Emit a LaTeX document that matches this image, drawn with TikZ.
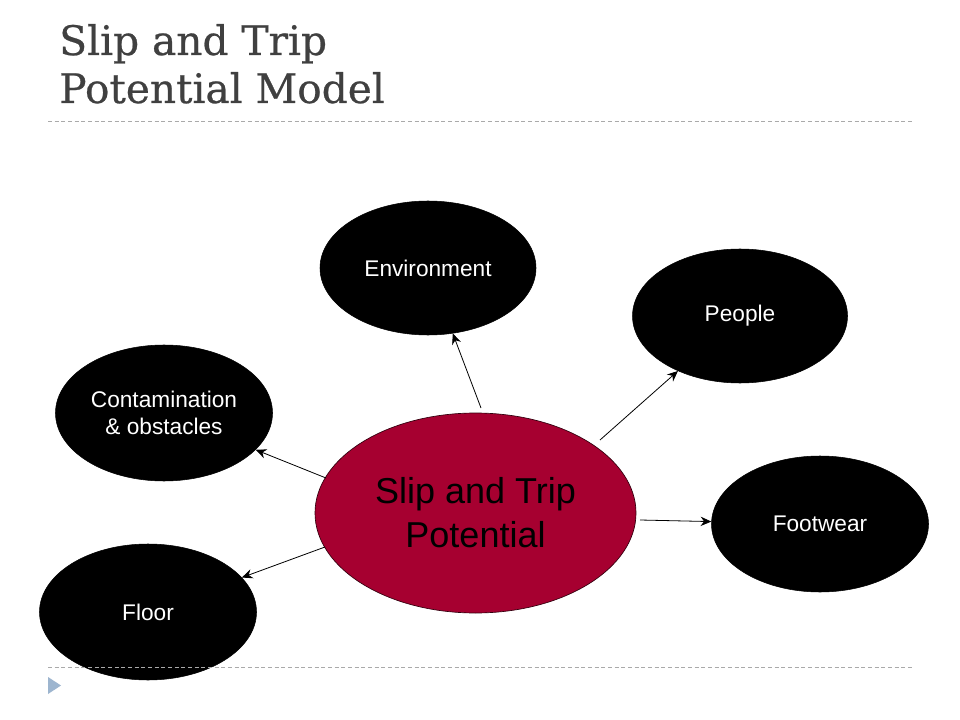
\documentclass[tikz,border=0pt]{standalone}
\usepackage{fontspec}
\setmainfont{Liberation Sans}
\newfontfamily\titlefont[FakeBold=0.6]{DejaVu Serif}
\usetikzlibrary{shapes.geometric,arrows.meta}
\definecolor{titlegray}{RGB}{64,64,64}
\definecolor{core}{RGB}{166,0,48}
\definecolor{rulegray}{RGB}{170,170,170}
\definecolor{bullet}{RGB}{157,181,207}
\tikzset{
  factor/.style={ellipse, fill=black, draw=black, inner sep=0pt,
    text=white, font=\fontsize{17}{20}\selectfont, align=center},
  link/.style={draw=black, line width=0.6pt, -{Stealth[length=8pt,width=7pt]}},
  ttl/.style={anchor=base west, inner sep=0pt, text=titlegray,
    font=\titlefont\fontsize{30.5}{36}\selectfont},
  rule/.style={draw=rulegray, dashed, dash pattern=on 3pt off 2pt, line width=0.6pt}
}
\begin{document}
\begin{tikzpicture}[x=0.75pt,y=-0.75pt]
\useasboundingbox[fill=white] (0,0) rectangle (960,720);
\node[ttl] (t1) at (59,55) {Slip and Trip};
\node[ttl] (t2) at (59,103) {Potential Model};
\coordinate (r1a) at (48,121); \coordinate (r1b) at (912,121);
\draw[rule] (r1a) -- (r1b);

\node[ellipse, fill=core, draw=black!70!core, line width=0.5pt,
  minimum width=321*0.75pt, minimum height=200*0.75pt, align=center,
  font=\fontsize{27}{33}\selectfont] (core) at (475.5,513) {Slip and Trip\\ Potential};

\node[factor, minimum width=216*0.75pt, minimum height=134*0.75pt] (env) at (428,268) {Environment};
\node[factor, minimum width=215*0.75pt, minimum height=134*0.75pt] (ppl) at (740,316) {People};
\node[factor, minimum width=217*0.75pt, minimum height=136*0.75pt] (con) at (164,413) {Contamination\\ \& obstacles};
\node[factor, minimum width=217*0.75pt, minimum height=136*0.75pt] (foot) at (820,524) {Footwear};
\node[factor, minimum width=217*0.75pt, minimum height=136*0.75pt] (floor) at (148,612) {Floor};

\coordinate (s1) at (481,408);
\coordinate (s2) at (600,440);
\coordinate (s3) at (326,478);
\coordinate (s4) at (640,520);
\coordinate (s5) at (325,547);
\draw[link] (s1) -- (env);
\draw[link] (s2) -- (ppl);
\draw[link] (s3) -- (con);
\draw[link] (s4) -- (foot);
\draw[link] (s5) -- (floor);

\coordinate (r2a) at (48,667); \coordinate (r2b) at (912,667);
\draw[rule] (r2a) -- (r2b);
\fill[bullet] (48,677) -- (61,685.5) -- (48,694) -- cycle;
\end{tikzpicture}
\end{document}
